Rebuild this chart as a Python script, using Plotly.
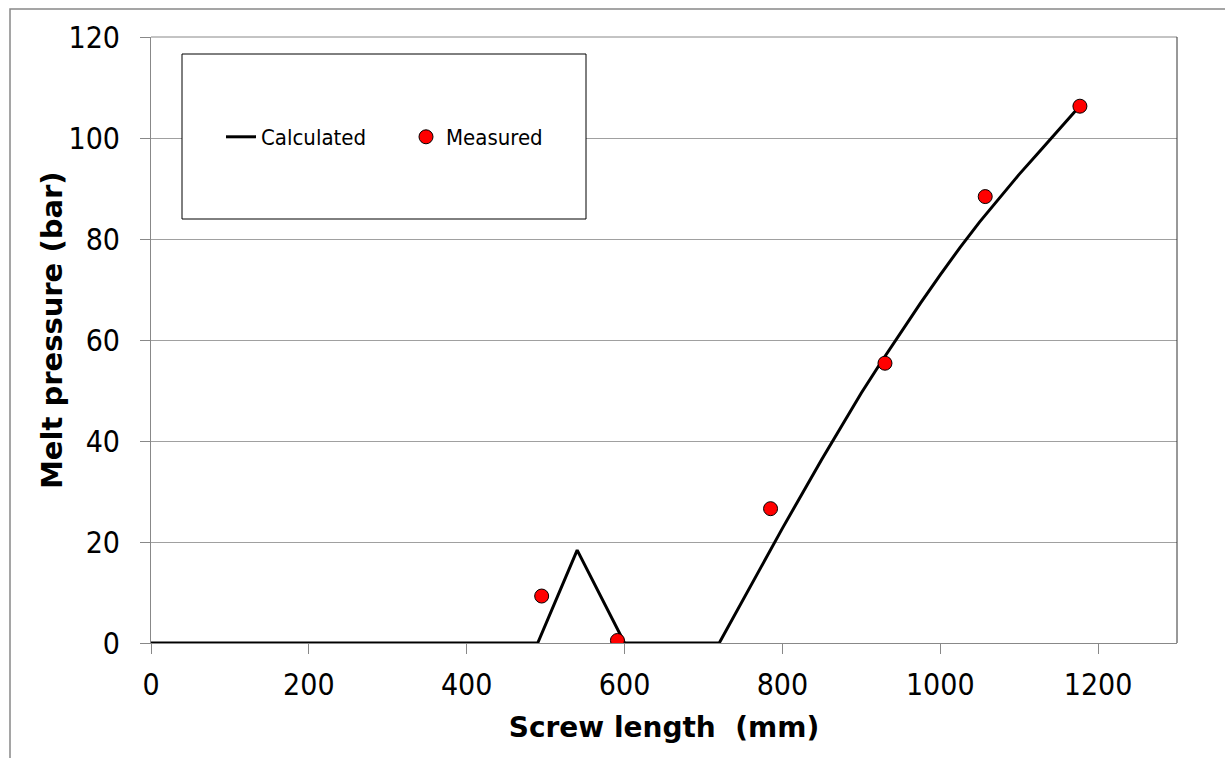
import plotly.graph_objects as go

# Calculated melt pressure profile along the screw
calc_x = [0, 490, 540, 600, 720, 750, 800, 850, 900, 925, 950, 975, 1000,
          1025, 1050, 1075, 1100, 1125, 1150, 1176]
calc_y = [0, 0, 18.4, 0, 0, 8.5, 22.7, 36.4, 49.5, 55.6, 61.5, 67.3, 72.9,
          78.3, 83.4, 88.2, 92.8, 97.2, 101.6, 106.2]

# Measured melt pressure
meas_x = [495, 591, 785, 930, 1057, 1177]
meas_y = [9.3, 0.5, 26.6, 55.4, 88.4, 106.3]

x_ticks = [0, 200, 400, 600, 800, 1000, 1200]
y_ticks = [0, 20, 40, 60, 80, 100, 120]

FONT = "DejaVu Sans Condensed, DejaVu Sans, sans-serif"
TITLE_FONT = "DejaVu Sans, sans-serif"

fig = go.Figure()
fig.add_trace(go.Scatter(
    x=calc_x, y=calc_y, mode="lines", name="Calculated",
    line=dict(color="black", width=3),
))
fig.add_trace(go.Scatter(
    x=meas_x, y=meas_y, mode="markers", name="Measured",
    marker=dict(color="#ff0000", size=14, line=dict(color="black", width=1)),
))

L, R, T, B = 151, 48, 37, 115
W, H = 1225, 758
pw = W - L - R
ph = H - T - B


def px(x):
    return (x - L) / pw


def py(y):
    return (H - B - y) / ph


fig.update_layout(
    width=W, height=H,
    margin=dict(l=L, r=R, t=T, b=B, pad=0),
    paper_bgcolor="white", plot_bgcolor="white",
    font=dict(family=FONT, color="black"),
    showlegend=True,
    legend=dict(
        orientation="h", x=px(221), y=py(137), xanchor="left", yanchor="middle",
        bgcolor="rgba(0,0,0,0)", borderwidth=0,
        font=dict(size=22, family=FONT),
        entrywidth=140, entrywidthmode="pixels",
    ),
    xaxis=dict(
        range=[0, 1300], tickvals=x_ticks, ticktext=[str(v) for v in x_ticks],
        showgrid=False, zeroline=False,
        showline=True, linecolor="#888888", linewidth=1,
        ticks="outside", ticklen=10, tickcolor="#888888",
        tickfont=dict(size=30), ticklabelstandoff=5,
        title=dict(text="<b>Screw length  (mm)</b>",
                   font=dict(size=28, family=TITLE_FONT), standoff=16),
    ),
    yaxis=dict(
        range=[0, 120], tickvals=y_ticks, ticktext=[str(v) for v in y_ticks],
        showgrid=True, gridcolor="#a0a0a0", gridwidth=1, zeroline=False,
        showline=True, linecolor="#888888", linewidth=1,
        ticks="outside", ticklen=10, tickcolor="#888888",
        tickfont=dict(size=30), ticklabelstandoff=14,
    ),
    annotations=[
        dict(text="<b>Melt pressure (bar)</b>", xref="paper", yref="paper",
             x=px(52), y=py(330), xanchor="center", yanchor="middle",
             textangle=-90, showarrow=False,
             font=dict(size=29, family=TITLE_FONT, color="black")),
    ],
    shapes=[
        # outer chart frame
        dict(type="rect", xref="paper", yref="paper",
             x0=px(10), y0=py(780), x1=px(1260), y1=py(9),
             line=dict(color="#888888", width=1.5), layer="below"),
        # top and right edges of the plot area
        dict(type="line", xref="paper", yref="paper", x0=0, y0=1, x1=1, y1=1,
             line=dict(color="#888888", width=1)),
        dict(type="line", xref="paper", yref="paper", x0=1, y0=0, x1=1, y1=1,
             line=dict(color="#333333", width=1)),
        # legend box
        dict(type="rect", xref="paper", yref="paper",
             x0=px(182), y0=py(219), x1=px(586), y1=py(54),
             fillcolor="white", line=dict(color="black", width=1), layer="above"),
    ],
)

fig.write_html("out.html")
